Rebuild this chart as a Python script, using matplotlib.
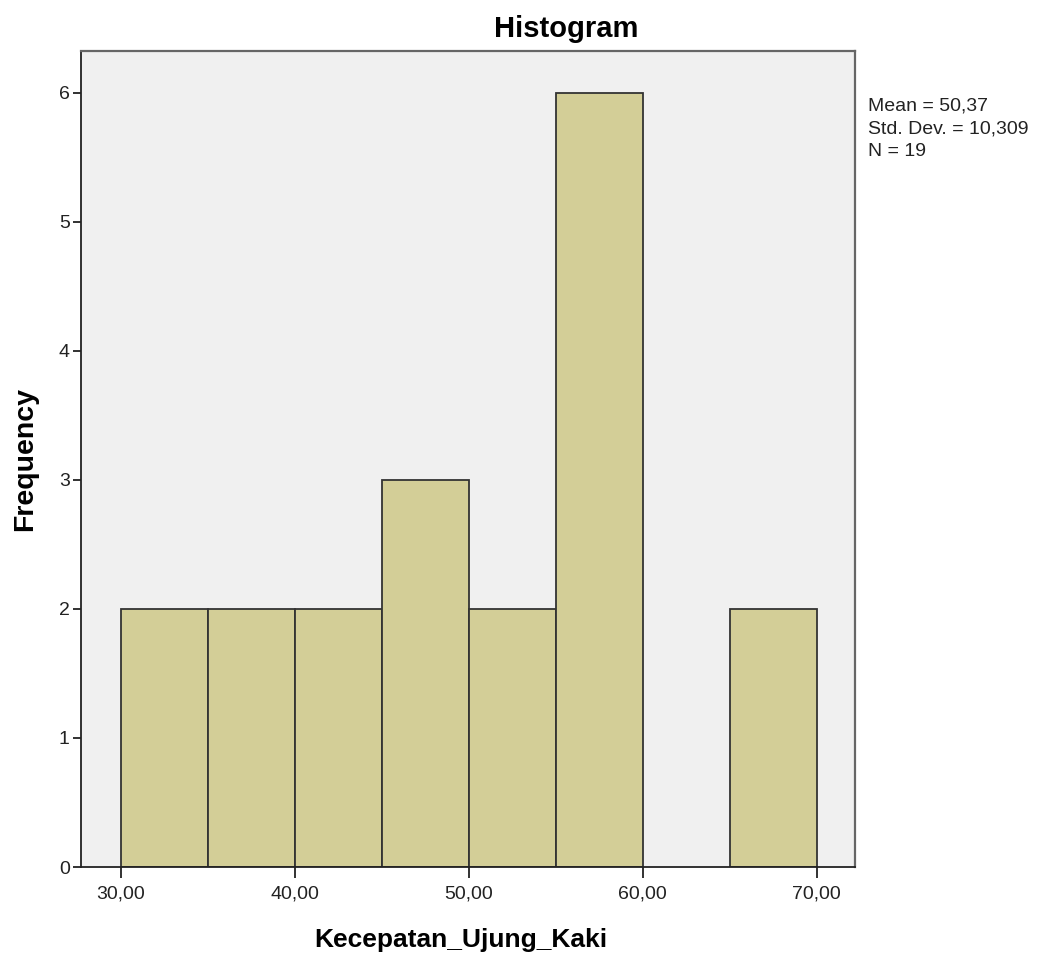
import matplotlib
matplotlib.use("Agg")
import matplotlib.pyplot as plt

bin_edges = [30, 35, 40, 45, 50, 55, 60, 65, 70]
counts = [2, 2, 2, 3, 2, 6, 0, 2]
x_ticks = [30, 40, 50, 60, 70]
x_tick_labels = ["30,00", "40,00", "50,00", "60,00", "70,00"]
y_ticks = [0, 1, 2, 3, 4, 5, 6]
stats_lines = ["Mean = 50,37", "Std. Dev. = 10,309", "N = 19"]

plt.rcParams['font.family'] = ['Liberation Sans', 'DejaVu Sans']

W, H = 1042, 961
fig = plt.figure(figsize=(W / 100, H / 100), dpi=100)
ax = fig.add_axes([0.0777, 0.0978, 0.7428, 0.8492])
ax.set_facecolor('#F0F0F0')

lefts = bin_edges[:-1]
widths = [bin_edges[i + 1] - bin_edges[i] for i in range(len(counts))]
for l, w, c in zip(lefts, widths, counts):
    if c > 0:
        ax.bar(l, c, width=w, align='edge', color='#D3CE97', edgecolor='#333333', linewidth=1.3)

ax.set_xlim(27.7, 72.2)
ax.set_ylim(0, 6.325)
ax.set_xticks(x_ticks)
ax.set_xticklabels(x_tick_labels)
ax.set_yticks(y_ticks)
ax.tick_params(axis='x', length=8, width=1.3, labelsize=14, pad=5, colors='#222222')
ax.tick_params(axis='y', length=6, width=1.3, labelsize=14, pad=2, colors='#222222')
for s in ['left', 'bottom']:
    ax.spines[s].set_color('#222222')
    ax.spines[s].set_linewidth(1.3)
for s in ['top', 'right']:
    ax.spines[s].set_color('#666666')
    ax.spines[s].set_linewidth(1.6)

fig.text(566 / W, 1 - 29 / H, 'Histogram', fontsize=21, fontweight='bold', ha='center', va='center')
ax.set_xlabel('Kecepatan_Ujung_Kaki', fontsize=19, fontweight='bold')
ax.set_ylabel('Frequency', fontsize=20.5, fontweight='bold', labelpad=15)
ax.xaxis.set_label_coords((461 - 81) / (855 - 81), -0.075)

for i, line in enumerate(stats_lines):
    fig.text(868 / W, 1 - (106 + 22.5 * i) / H, line, fontsize=14, va='center', ha='left', color='#222222')

fig.savefig('out.png', dpi=100, facecolor='white')
